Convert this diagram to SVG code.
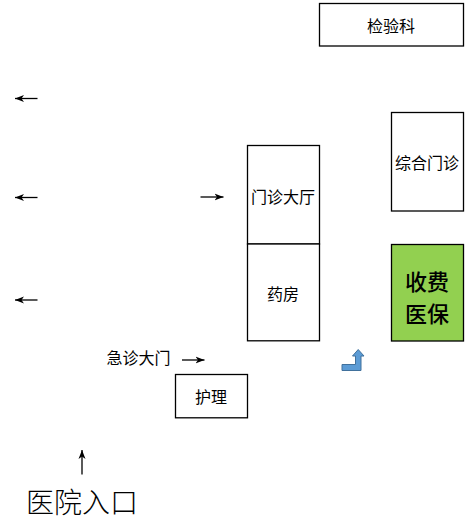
<svg xmlns="http://www.w3.org/2000/svg" width="469" height="519" viewBox="0 0 469 519">
<style>
.box{fill:#fff;stroke:#000;stroke-width:1.3}
.t{font-family:"Noto Sans CJK SC","Noto Sans",sans-serif;font-size:16px;fill:#000;text-anchor:middle;dominant-baseline:central}
.big{font-size:22px;font-weight:500}
.ln{stroke:#000;stroke-width:1.3;fill:none;marker-end:url(#ah)}
</style>
<defs>
<marker id="ah" markerUnits="userSpaceOnUse" markerWidth="10" markerHeight="10" viewBox="0 0 10 10" refX="9" refY="5" orient="auto">
<path d="M0,1.5 L9,5 L0,8.5 L2.5,5 Z" fill="#000"/>
</marker>
</defs>
<rect width="469" height="519" fill="#fff"/>
<g id="n-jianyanke"><rect class="box" x="319.5" y="3.5" width="144" height="42.5"/><text class="t" x="391" y="24.5">检验科</text></g>
<g id="n-zonghe"><rect class="box" x="391.5" y="112.5" width="72" height="98.5"/><text class="t" x="427" y="162">综合门诊</text></g>
<g id="n-menzhen"><rect class="box" x="247.5" y="145.5" width="72" height="98.5"/><text class="t" x="283" y="195.5">门诊大厅</text></g>
<g id="n-yaofang"><rect class="box" x="247.5" y="244" width="72" height="96.8"/><text class="t" x="283" y="293">药房</text></g>
<g id="n-shoufei"><rect x="391.5" y="244.5" width="72" height="96.5" fill="#92D050" stroke="#000" stroke-width="1.3"/><text class="t big" x="427" y="279.5">收费</text><text class="t big" x="427" y="311.8">医保</text></g>
<g id="n-huli"><rect class="box" x="175.5" y="374.5" width="72" height="43.3"/><text class="t" x="211" y="396">护理</text></g>
<g id="n-jizhen"><text class="t" x="138.5" y="357">急诊大门</text></g>
<g id="n-rukou"><text class="t" style="font-size:28px;font-weight:300" x="82" y="500.5">医院入口</text></g>
<g id="connectors">
<line class="ln" x1="37.5" y1="98.5" x2="15" y2="98.5"/>
<line class="ln" x1="37.5" y1="197.5" x2="15" y2="197.5"/>
<line class="ln" x1="37.5" y1="300" x2="15" y2="300"/>
<line class="ln" x1="200.5" y1="197" x2="223.5" y2="197"/>
<line class="ln" x1="182" y1="360" x2="204.5" y2="360"/>
<line class="ln" x1="82" y1="474.5" x2="82" y2="450"/>
<polygon points="342,364.5 355.5,364.5 355.5,356 352.5,356 358.2,349.5 364,356 361,356 361,370.5 342,370.5" fill="#5B9BD5" stroke="#41719C" stroke-width="1"/>
</g>
</svg>
